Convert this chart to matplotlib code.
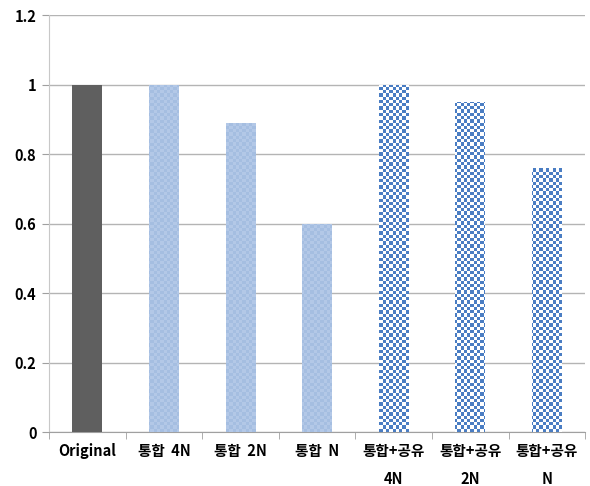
import numpy as np
import matplotlib
matplotlib.use('Agg')
import matplotlib.pyplot as plt
from matplotlib.colors import ListedColormap

plt.rcParams['font.family'] = ['Noto Sans CJK KR', 'DejaVu Sans']

categories = ['Original', '통합  4N', '통합  2N', '통합  N', '통합+공유\n4N', '통합+공유\n2N', '통합+공유\nN']
values = [1.0, 1.0, 0.89, 0.6, 1.0, 0.95, 0.76]
styles = ['solid', 'light', 'light', 'light', 'check', 'check', 'check']

fig = plt.figure(figsize=(5.9, 4.86), dpi=100)
ax = fig.add_axes([0.083, 0.111, 0.909, 0.858])

x = np.arange(len(categories))
bars = ax.bar(x, values, width=0.39, color='#5f5f5f', zorder=3)

# checkerboard fills, clipped to each bar
nx, ny = 164, 127
checker = (np.add.outer(np.arange(ny), np.arange(nx)) % 2).astype(float)
fills = {
    'light': ListedColormap(['#a5bee1', '#b3c8e7']),
    'check': ListedColormap(['#ffffff', '#4a7dc3']),
}
for bar, style in zip(bars, styles):
    if style == 'solid':
        continue
    bar.set_facecolor('none')
    im = ax.imshow(checker, cmap=fills[style], extent=(0, 1, 0, 1),
                   transform=ax.transAxes, interpolation='nearest',
                   aspect='auto', zorder=3)
    im.set_clip_path(bar)

ax.set_xlim(-0.5, len(categories) - 0.5)
ax.set_ylim(0, 1.2)
ax.set_yticks(np.arange(0, 1.21, 0.2))
ax.set_yticklabels(['0', '0.2', '0.4', '0.6', '0.8', '1', '1.2'],
                   fontsize=10.5, fontweight='bold')
ax.set_xticks(x)
ax.set_xticklabels(categories, fontsize=10.5, fontweight='bold', linespacing=1.9)
ax.set_xticks(np.arange(-0.5, len(categories)), minor=True)
ax.tick_params(axis='x', which='major', length=0, pad=8)
ax.tick_params(axis='x', which='minor', length=5, color='#a0a0a0')
ax.tick_params(axis='y', length=5, color='#a0a0a0', pad=4)

ax.grid(axis='y', color='#b4b4b4', linewidth=1, zorder=0)
for side in ['top', 'right']:
    ax.spines[side].set_visible(False)
ax.spines['left'].set_color('#c8c8c8')
ax.spines['bottom'].set_color('#a0a0a0')

plt.savefig('out.png', dpi=100)
plt.close()
